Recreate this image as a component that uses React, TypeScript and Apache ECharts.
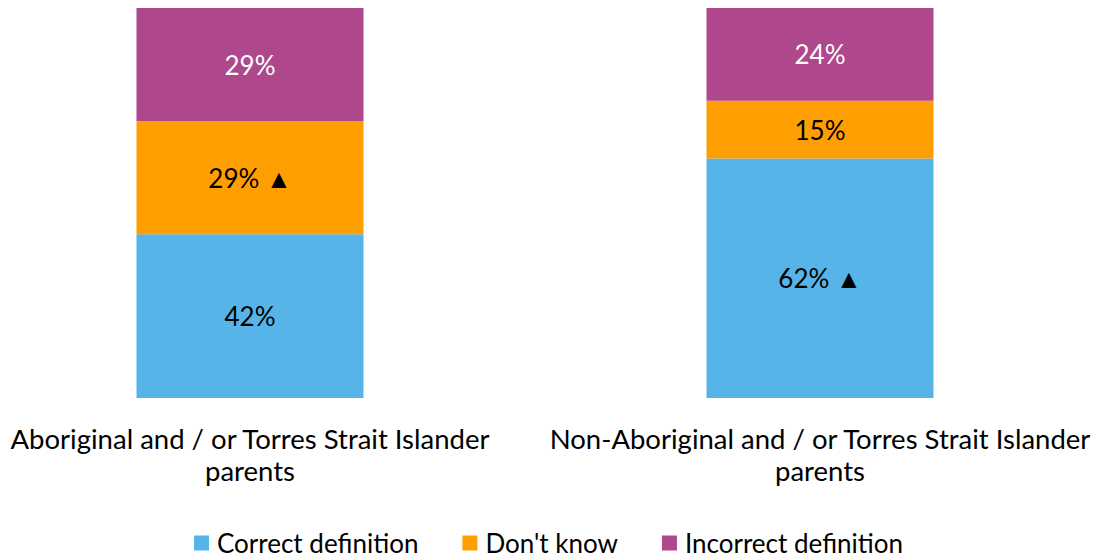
import React, { useEffect, useRef } from "react";
import * as echarts from "echarts";

// Respondent groups
const categories = [
  "Aboriginal and / or Torres Strait Islander\nparents",
  "Non-Aboriginal and / or Torres Strait Islander\nparents",
];

// Answer shares (%) per group
const correctDefinition = [42, 62];
const dontKnow = [29, 15];
const incorrectDefinition = [29, 24];

// Significant-difference markers (▲) per group and answer
const correctMarked = [false, true];
const dontKnowMarked = [true, false];
const incorrectMarked = [false, false];

const seriesNames = ["Correct definition", "Don't know", "Incorrect definition"];
const seriesColors = ["#56B4E8", "#FF9E00", "#AE478C"];
const labelColors = ["#000000", "#000000", "#FFFFFF"];

const FONT = "Lato, 'Open Sans', sans-serif";

export default function App() {
  const ref = useRef<HTMLDivElement>(null);

  useEffect(() => {
    if (!ref.current) return;
    const chart = echarts.init(ref.current, undefined, { renderer: "svg" });

    const raw = [correctDefinition, dontKnow, incorrectDefinition];
    const marks = [correctMarked, dontKnowMarked, incorrectMarked];
    // Each bar is scaled to a full 100% column
    const totals = categories.map((_, i) => raw.reduce((s, arr) => s + arr[i], 0));

    const series = raw.map((vals, si) => ({
      name: seriesNames[si],
      type: "bar",
      stack: "total",
      barWidth: 227,
      itemStyle: { color: seriesColors[si] },
      label: {
        show: true,
        position: "inside",
        color: labelColors[si],
        fontFamily: FONT,
        fontSize: 26,
        formatter: (p: any) =>
          `${vals[p.dataIndex]}%${marks[si][p.dataIndex] ? " ▲" : ""}`,
      },
      data: vals.map((v, i) => (v / totals[i]) * 100),
    }));

    chart.setOption({
      animation: false,
      textStyle: { fontFamily: FONT },
      grid: { left: 250, right: 277, top: 8, bottom: 162 },
      xAxis: {
        type: "category",
        data: categories,
        boundaryGap: false,
        axisLine: { show: false },
        axisTick: { show: false },
        axisLabel: {
          interval: 0,
          hideOverlap: false,
          color: "#000",
          fontFamily: FONT,
          fontSize: 27.5,
          lineHeight: 32,
          margin: 24,
          align: "center",
        },
      },
      yAxis: {
        type: "value",
        min: 0,
        max: 100,
        show: false,
        splitLine: { show: false },
      },
      legend: {
        data: seriesNames,
        left: "center",
        top: 530,
        padding: 0,
        itemWidth: 15,
        itemHeight: 15,
        itemGap: 44,
        icon: "rect",
        textStyle: {
          color: "#000",
          fontFamily: FONT,
          fontSize: 26,
          lineHeight: 26,
          padding: [0, 0, 0, 3],
        },
      },
      series,
    });

    return () => chart.dispose();
  }, []);

  return (
    <div
      ref={ref}
      style={{ position: "absolute", left: 0, top: 0, width: 1097, height: 560, background: "#fff" }}
    />
  );
}
